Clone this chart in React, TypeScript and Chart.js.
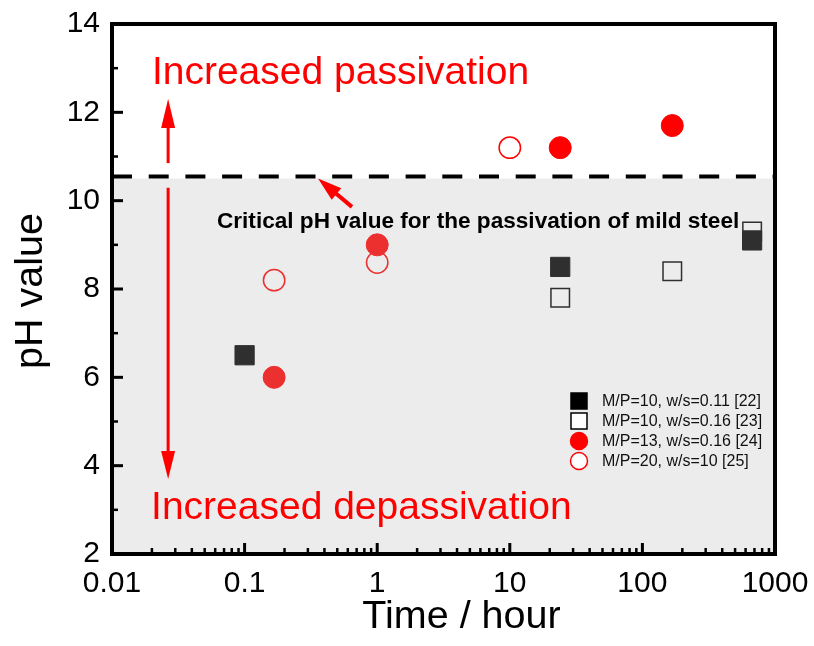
import React, { useEffect, useRef } from 'react';
import { Chart, registerables } from 'chart.js';

Chart.register(...registerables);

const FONT = '"Liberation Sans", Arial, Helvetica, sans-serif';

// ---- axis ----
const X_MIN = 0.01;
const X_MAX = 1000;
const X_TICKS = [0.01, 0.1, 1, 10, 100, 1000];
const X_TICK_LABELS = ['0.01', '0.1', '1', '10', '100', '1000'];
const Y_MIN = 2;
const Y_MAX = 14;
const Y_STEP = 2;
const X_TITLE = 'Time / hour';
const Y_TITLE = 'pH value';

// ---- data ----
const S1_LABEL = 'M/P=10, w/s=0.11 [22]';
const S1_TIME = [0.1, 24, 672];
const S1_PH = [6.5, 8.5, 9.1];

const S2_LABEL = 'M/P=10, w/s=0.16 [23]';
const S2_TIME = [24, 168, 672];
const S2_PH = [7.8, 8.4, 9.3];

const S3_LABEL = 'M/P=13, w/s=0.16 [24]';
const S3_TIME = [0.167, 1, 24, 168];
const S3_PH = [6.0, 9.0, 11.2, 11.7];

const S4_LABEL = 'M/P=20, w/s=10 [25]';
const S4_TIME = [0.167, 1, 10];
const S4_PH = [8.2, 8.6, 11.2];

// ---- annotations (data coordinates) ----
const CRITICAL_PH = 10.5;
const CRITICAL_TEXT = 'Critical pH value for the passivation of mild steel';
const CRITICAL_TEXT_POS = [0.0619, 9.38];
const CRITICAL_ARROW = [0.645, 9.86, 0.358, 10.5]; // tail x, tail y, tip x, tip y
const ARROW_X = 0.0265;
const UP_ARROW = [10.85, 12.3];
const DOWN_ARROW = [10.29, 3.7];
const PASSIVATION_TEXT = 'Increased passivation';
const PASSIVATION_POS = [0.02, 12.64];
const DEPASSIVATION_TEXT = 'Increased depassivation';
const DEPASSIVATION_POS = [0.0197, 2.79];

const toPts = (xs: number[], ys: number[]) => xs.map((x, i) => ({ x, y: ys[i] }));

function drawArrow(ctx: CanvasRenderingContext2D, x1: number, y1: number, x2: number, y2: number,
  headLen: number, headW: number, lineW: number, color: string) {
  const ang = Math.atan2(y2 - y1, x2 - x1);
  const c = Math.cos(ang), s = Math.sin(ang);
  const bx = x2 - headLen * c, by = y2 - headLen * s;
  ctx.save();
  ctx.strokeStyle = color;
  ctx.fillStyle = color;
  ctx.lineWidth = lineW;
  ctx.lineCap = 'butt';
  ctx.beginPath();
  ctx.moveTo(x1, y1);
  ctx.lineTo(bx + c, by + s);
  ctx.stroke();
  ctx.beginPath();
  ctx.moveTo(x2, y2);
  ctx.lineTo(bx - (headW / 2) * s, by + (headW / 2) * c);
  ctx.lineTo(bx + (headW / 2) * s, by - (headW / 2) * c);
  ctx.closePath();
  ctx.fill();
  ctx.restore();
}

const overlayPlugin = {
  id: 'overlayPlugin',
  afterDatasetsDraw(chart: any) {
    const { ctx, chartArea: ca, scales } = chart;
    const xs = scales.x;
    const ys = scales.y;
    const yc = ys.getPixelForValue(CRITICAL_PH);
    ctx.save();

    // grey tint of the depassivation region (over the points)
    ctx.fillStyle = 'rgba(181,181,181,0.26)';
    ctx.fillRect(ca.left, yc, ca.right - ca.left, ca.bottom - yc);

    // critical dashed line
    ctx.strokeStyle = '#000';
    ctx.lineWidth = 4;
    ctx.setLineDash([20, 16.7]);
    ctx.beginPath();
    ctx.moveTo(ca.left, yc - 2);
    ctx.lineTo(ca.right + 2, yc - 2);
    ctx.stroke();
    ctx.setLineDash([]);

    // inward ticks
    ctx.strokeStyle = '#000';
    ctx.lineCap = 'butt';
    for (let v = Y_MIN; v <= Y_MAX; v += 1) {
      const major = (v - Y_MIN) % Y_STEP === 0;
      const py = ys.getPixelForValue(v);
      ctx.lineWidth = major ? 3 : 2.5;
      ctx.beginPath();
      ctx.moveTo(ca.left, py);
      ctx.lineTo(ca.left + (major ? 11 : 6), py);
      ctx.stroke();
    }
    for (let e = -2; e <= 3; e++) {
      const d = Math.pow(10, e);
      for (let m = 1; m <= 9; m++) {
        const v = m * d;
        if (v > X_MAX * 1.0001) break;
        const major = m === 1;
        const px = xs.getPixelForValue(v);
        ctx.lineWidth = major ? 3 : 2.5;
        ctx.beginPath();
        ctx.moveTo(px, ca.bottom);
        ctx.lineTo(px, ca.bottom - (major ? 11 : 6));
        ctx.stroke();
      }
    }

    // frame
    ctx.lineWidth = 4;
    ctx.strokeRect(ca.left, ca.top, ca.right - ca.left, ca.bottom - ca.top);

    // red vertical arrows
    const ax = xs.getPixelForValue(ARROW_X);
    drawArrow(ctx, ax, ys.getPixelForValue(UP_ARROW[0]), ax, ys.getPixelForValue(UP_ARROW[1]), 29, 14, 3, '#ff0000');
    drawArrow(ctx, ax, ys.getPixelForValue(DOWN_ARROW[0]), ax, ys.getPixelForValue(DOWN_ARROW[1]), 28, 14, 3, '#ff0000');

    // small arrow pointing at the critical line
    drawArrow(ctx,
      xs.getPixelForValue(CRITICAL_ARROW[0]), ys.getPixelForValue(CRITICAL_ARROW[1]),
      xs.getPixelForValue(CRITICAL_ARROW[2]), ys.getPixelForValue(CRITICAL_ARROW[3]),
      24, 15, 4, '#ff0000');

    // texts
    ctx.textAlign = 'left';
    ctx.textBaseline = 'alphabetic';
    ctx.fillStyle = '#ff0000';
    ctx.font = `39px ${FONT}`;
    ctx.fillText(PASSIVATION_TEXT, xs.getPixelForValue(PASSIVATION_POS[0]), ys.getPixelForValue(PASSIVATION_POS[1]));
    ctx.fillText(DEPASSIVATION_TEXT, xs.getPixelForValue(DEPASSIVATION_POS[0]), ys.getPixelForValue(DEPASSIVATION_POS[1]));

    ctx.fillStyle = '#000';
    ctx.font = `bold 22.6px ${FONT}`;
    ctx.fillText(CRITICAL_TEXT, xs.getPixelForValue(CRITICAL_TEXT_POS[0]), ys.getPixelForValue(CRITICAL_TEXT_POS[1]));

    // legend
    const lx = ca.right - 196;
    const ly0 = ca.bottom - 154;
    const rowH = 20;
    ctx.font = `16px ${FONT}`;
    ctx.textBaseline = 'middle';
    chart.data.datasets.forEach((ds: any, i: number) => {
      const cy = ly0 + i * rowH + 1;
      ctx.fillStyle = ds.backgroundColor;
      ctx.strokeStyle = ds.borderColor;
      ctx.lineWidth = 1.5;
      ctx.beginPath();
      if (ds.pointStyle === 'rect') {
        ctx.rect(lx - 8, cy - 8, 16, 16);
      } else {
        ctx.arc(lx, cy, 8.5, 0, Math.PI * 2);
      }
      ctx.fill();
      ctx.stroke();
      ctx.fillStyle = '#111';
      ctx.fillText(ds.label, lx + 23, cy + 1);
    });

    // axis titles
    ctx.fillStyle = '#000';
    ctx.font = `39.5px ${FONT}`;
    ctx.textAlign = 'center';
    ctx.textBaseline = 'alphabetic';
    ctx.fillText(X_TITLE, (ca.left + ca.right) / 2 + 18, 628);
    ctx.save();
    ctx.translate(42, (ca.top + ca.bottom) / 2 + 2);
    ctx.rotate(-Math.PI / 2);
    ctx.fillText(Y_TITLE, 0, 0);
    ctx.restore();

    ctx.restore();
  },
};

export default function App() {
  const ref = useRef<HTMLCanvasElement | null>(null);

  useEffect(() => {
    if (!ref.current) return;
    const chart = new Chart(ref.current, {
      type: 'scatter',
      data: {
        datasets: [
          {
            label: S1_LABEL,
            data: toPts(S1_TIME, S1_PH),
            pointStyle: 'rect',
            pointRadius: 13.6,
            backgroundColor: '#000000',
            borderColor: '#000000',
            borderWidth: 1,
          },
          {
            label: S2_LABEL,
            data: toPts(S2_TIME, S2_PH),
            pointStyle: 'rect',
            pointRadius: 13.1,
            backgroundColor: '#ffffff',
            borderColor: '#000000',
            borderWidth: 1.5,
          },
          {
            label: S3_LABEL,
            data: toPts(S3_TIME, S3_PH),
            pointStyle: 'circle',
            pointRadius: 11,
            backgroundColor: '#ff0000',
            borderColor: '#ff0000',
            borderWidth: 1,
          },
          {
            label: S4_LABEL,
            data: toPts(S4_TIME, S4_PH),
            pointStyle: 'circle',
            pointRadius: 10.7,
            backgroundColor: '#ffffff',
            borderColor: '#ff0000',
            borderWidth: 1.5,
          },
        ] as any,
      },
      options: {
        responsive: false,
        devicePixelRatio: 1,
        animation: false,
        layout: { padding: { left: 0, right: 39, top: 24, bottom: 0 } },
        plugins: {
          legend: { display: false },
          tooltip: { enabled: false },
        },
        scales: {
          x: {
            type: 'logarithmic',
            min: X_MIN,
            max: X_MAX,
            afterBuildTicks: (s: any) => {
              s.ticks = X_TICKS.map((v) => ({ value: v, major: true }));
            },
            afterFit: (s: any) => {
              s.height = 92;
              s.paddingLeft = 0;
              s.paddingRight = 0;
              s.paddingTop = 0;
              s.paddingBottom = 0;
            },
            grid: { display: false, drawTicks: false },
            border: { display: false },
            ticks: {
              autoSkip: false,
              maxRotation: 0,
              padding: 12,
              color: '#000',
              font: { family: FONT, size: 30 },
              callback: (v: any) => {
                const i = X_TICKS.findIndex((t) => Math.abs(t - Number(v)) < t * 1e-6);
                return i >= 0 ? X_TICK_LABELS[i] : '';
              },
            },
          },
          y: {
            type: 'linear',
            min: Y_MIN,
            max: Y_MAX,
            afterFit: (s: any) => {
              s.width = 112;
              s.paddingLeft = 0;
              s.paddingRight = 0;
              s.paddingTop = 0;
              s.paddingBottom = 0;
            },
            grid: { display: false, drawTicks: false },
            border: { display: false },
            ticks: {
              stepSize: Y_STEP,
              padding: 12,
              color: '#000',
              font: { family: FONT, size: 30 },
            },
          },
        },
      } as any,
      plugins: [overlayPlugin],
    });
    return () => chart.destroy();
  }, []);

  return (
    <div style={{ position: 'fixed', left: 0, top: 0, width: 814, height: 646, background: '#fff' }}>
      <canvas ref={ref} width={814} height={646} style={{ display: 'block', width: 814, height: 646 }} />
    </div>
  );
}
